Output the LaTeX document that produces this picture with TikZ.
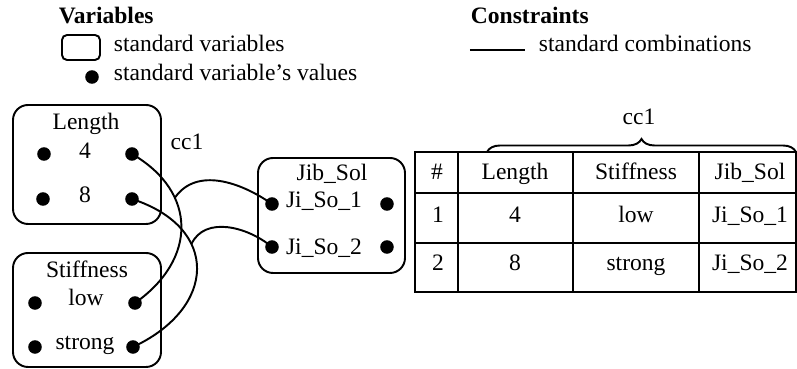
\documentclass[tikz,border=0pt]{standalone}
\usepackage{fontspec}
\setmainfont{Liberation Serif}
\usepackage{tikz}
\usetikzlibrary{decorations.pathreplacing}
\usepackage{tkz-euclide}

\begin{document}
\begin{tikzpicture}[scale=0.2,line width=1.1pt,
  every node/.style={font=\fontsize{13.4}{16}\selectfont,inner sep=0pt,text height=.66em,text depth=0pt},
  head/.style={font=\fontsize{13.4}{16}\selectfont\bfseries,anchor=west},
  varbox/.style={rounded corners=3mm}]
\useasboundingbox (0,0) rectangle (79.7,36.9);
\tkzDefPoints{9.2/29.2/V,4.4/21.5/LaL,13.2/21.5/LaR,4.3/17.0/LbL,13.2/17.0/LbR}
\tkzDefPoints{3.5/6.6/SaL,13.5/6.6/SaR,3.5/2.2/SbL,13.3/2.2/SbR}
\tkzDefPoints{27.2/16.5/JaL,38.7/16.5/JaR,27.2/12.2/JbL,38.7/12.2/JbR}
\tkzDefPoints{47.0/31.9/C1,52.5/31.9/C2}
% legend
\node[head] (var) at (5.8,35.1) {Variables};
\draw[rounded corners=1mm] (6.2,30.9) rectangle (10.0,33.4);
\node[anchor=west] (stdvar) at (11.3,32.3) {standard variables};
\node[anchor=west] (stdval) at (11.3,29.4) {standard variable's values};
\node[head] (cons) at (47.0,35.1) {Constraints};
\draw (C1)--(C2);
\node[anchor=west] (stdcomb) at (53.8,32.35) {standard combinations};
% variables
\draw[varbox] (1.3,14.5) rectangle (16.1,26.4);
\draw[varbox] (1.3,0.2) rectangle (16.1,11.6);
\draw[varbox] (25.8,9.6) rectangle (40.5,21.1);
\node (len) at (8.6,24.5) {Length};
\node (v4) at (8.5,21.6) {4};
\node (v8) at (8.5,17.2) {8};
\node (stf) at (8.7,9.7) {Stiffness};
\node (vlow) at (8.6,6.9) {low};
\node (vstr) at (8.5,2.5) {strong};
\node (jib) at (33.2,19.4) {Jib\_Sol};
\node (js1) at (32.4,16.7) {Ji\_So\_1};
\node (js2) at (32.4,12.0) {Ji\_So\_2};
\node (cca) at (18.7,22.5) {cc1};
% combinations
\draw (LaR) to[out=-30,in=35,looseness=1.3] coordinate[pos=0.32] (K1) (SaR);
\draw (LbR) to[out=-18,in=25,looseness=1.6] coordinate[pos=0.35] (K2) (SbR);
\draw (K1) to[out=55,in=145] (JaL);
\draw (K2) to[out=65,in=140] (JbL);
\tkzDrawPoints[size=4,fill=black](V,LaL,LaR,LbL,LbR,SaL,SaR,SbL,SbR,JaL,JaR,JbL,JbR)
% table
\draw (41.5,7.7) rectangle (79.6,21.7);
\draw (41.5,17.6)--(79.6,17.6) (41.5,12.6)--(79.6,12.6);
\foreach \x in {45.8,57.3,69.9} \draw (\x,7.7)--(\x,21.7);
\foreach \x/\t/\n in {43.7/\#/hn,51.5/Length/hl,63.6/Stiffness/hs,75.0/Jib\_Sol/hj}
  \node (\n) at (\x,19.5) {\t};
\foreach \x/\t/\n in {43.8/1/an,51.5/4/al,63.6/low/as,75.0/Ji\_So\_1/aj}
  \node (\n) at (\x,15.2) {\t};
\foreach \x/\t/\n in {43.8/2/bn,51.5/8/bl,63.6/strong/bs,75.0/Ji\_So\_2/bj}
  \node (\n) at (\x,10.4) {\t};
\draw[decorate,decoration={brace,amplitude=0.26cm}] (48.7,21.7)--(79.6,21.7);
\node (ccb) at (63.9,25.0) {cc1};
\end{tikzpicture}
\end{document}
